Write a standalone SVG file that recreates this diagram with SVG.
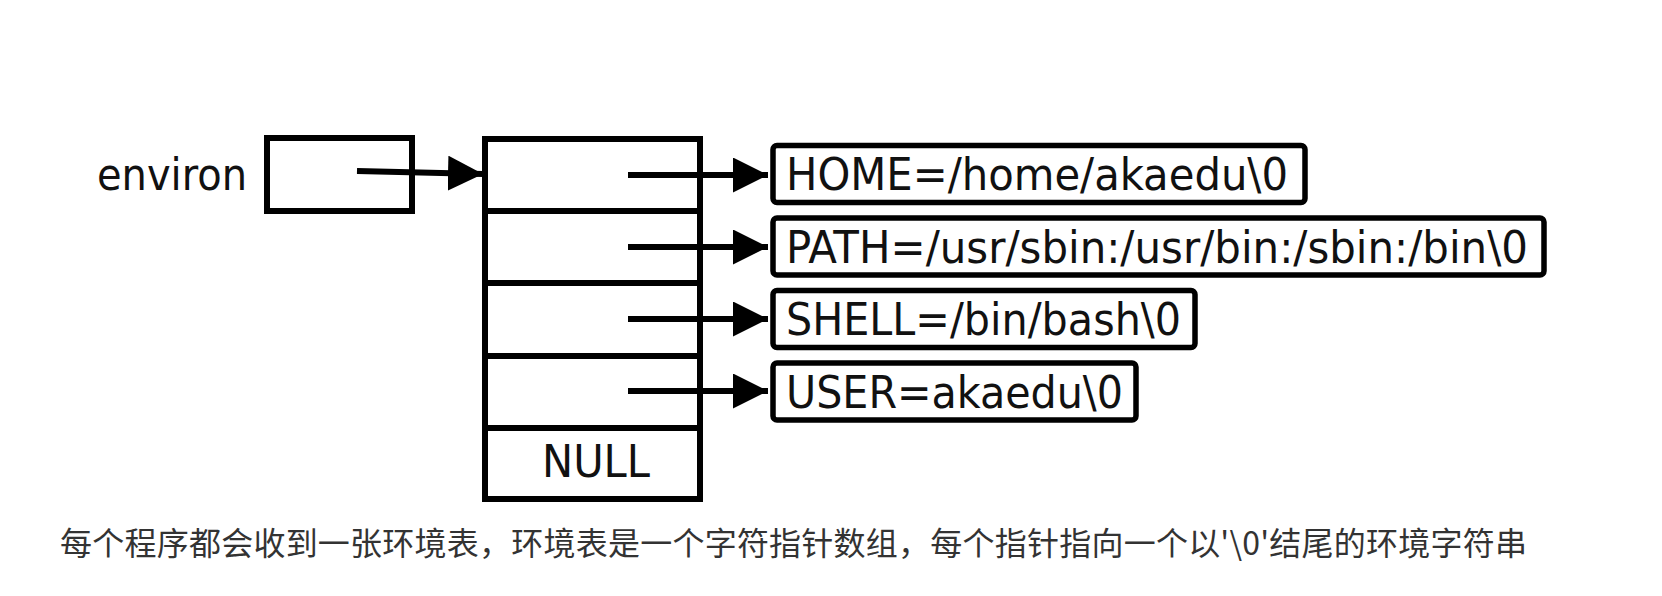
<svg xmlns="http://www.w3.org/2000/svg" width="1662" height="596" viewBox="0 0 1662 596">
  <style>
    .box { fill: #ffffff; stroke: #000000; stroke-width: 6; }
    .sbox { fill: #ffffff; stroke: #000000; stroke-width: 5.5; }
    .line { fill: none; stroke: #000000; stroke-width: 6; }
    .lbl { font-family: "DejaVu Sans Condensed", "DejaVu Sans", sans-serif; font-size: 45px; fill: #111111; }
    .cap { font-family: "Noto Sans CJK SC", "Noto Sans", sans-serif; font-size: 32px; fill: #333333; }
  </style>
  <defs>
    <marker id="arrow" markerUnits="userSpaceOnUse" markerWidth="36" markerHeight="36" refX="35" refY="17.5" orient="auto">
      <path d="M0,0 L35,17.5 L0,35 Z" fill="#000000"/>
    </marker>
  </defs>
  <rect width="1662" height="596" fill="#ffffff"/>

  <g id="environ">
    <text class="lbl" x="97" y="190" font-size="46" textLength="150" lengthAdjust="spacingAndGlyphs">environ</text>
    <rect class="box" x="267" y="138" width="145" height="73"/>
  </g>

  <g id="array">
    <rect class="box" x="485" y="139" width="215" height="360"/>
    <line class="line" x1="485" y1="211" x2="700" y2="211"/>
    <line class="line" x1="485" y1="283" x2="700" y2="283"/>
    <line class="line" x1="485" y1="356" x2="700" y2="356"/>
    <line class="line" x1="485" y1="428" x2="700" y2="428"/>
    <text class="lbl" x="542" y="477" font-size="44" textLength="108" lengthAdjust="spacingAndGlyphs">NULL</text>
  </g>

  <g id="home">
    <rect class="sbox" x="773" y="145.5" width="532" height="57" rx="4"/>
    <text class="lbl" x="786" y="190" textLength="502" lengthAdjust="spacingAndGlyphs">HOME=/home/akaedu\0</text>
  </g>
  <g id="path">
    <rect class="sbox" x="773" y="218" width="771" height="57" rx="4"/>
    <text class="lbl" x="786" y="262.5" textLength="742" lengthAdjust="spacingAndGlyphs">PATH=/usr/sbin:/usr/bin:/sbin:/bin\0</text>
  </g>
  <g id="shell">
    <rect class="sbox" x="773" y="290.5" width="422" height="57" rx="4"/>
    <text class="lbl" x="786" y="335" textLength="395" lengthAdjust="spacingAndGlyphs">SHELL=/bin/bash\0</text>
  </g>
  <g id="user">
    <rect class="sbox" x="773" y="363" width="363" height="57" rx="4"/>
    <text class="lbl" x="786" y="407.5" textLength="337" lengthAdjust="spacingAndGlyphs">USER=akaedu\0</text>
  </g>

  <g id="connectors">
    <path class="line" d="M357,171 L483,174" marker-end="url(#arrow)"/>
    <line class="line" x1="628" y1="175" x2="768" y2="175" marker-end="url(#arrow)"/>
    <line class="line" x1="628" y1="247" x2="768" y2="247" marker-end="url(#arrow)"/>
    <line class="line" x1="628" y1="319" x2="768" y2="319" marker-end="url(#arrow)"/>
    <line class="line" x1="628" y1="391" x2="768" y2="391" marker-end="url(#arrow)"/>
  </g>

  <g id="caption">
    <text class="cap" x="60" y="555" textLength="1467" lengthAdjust="spacing">每个程序都会收到一张环境表，环境表是一个字符指针数组，每个指针指向一个以'\0'结尾的环境字符串</text>
  </g>
</svg>
